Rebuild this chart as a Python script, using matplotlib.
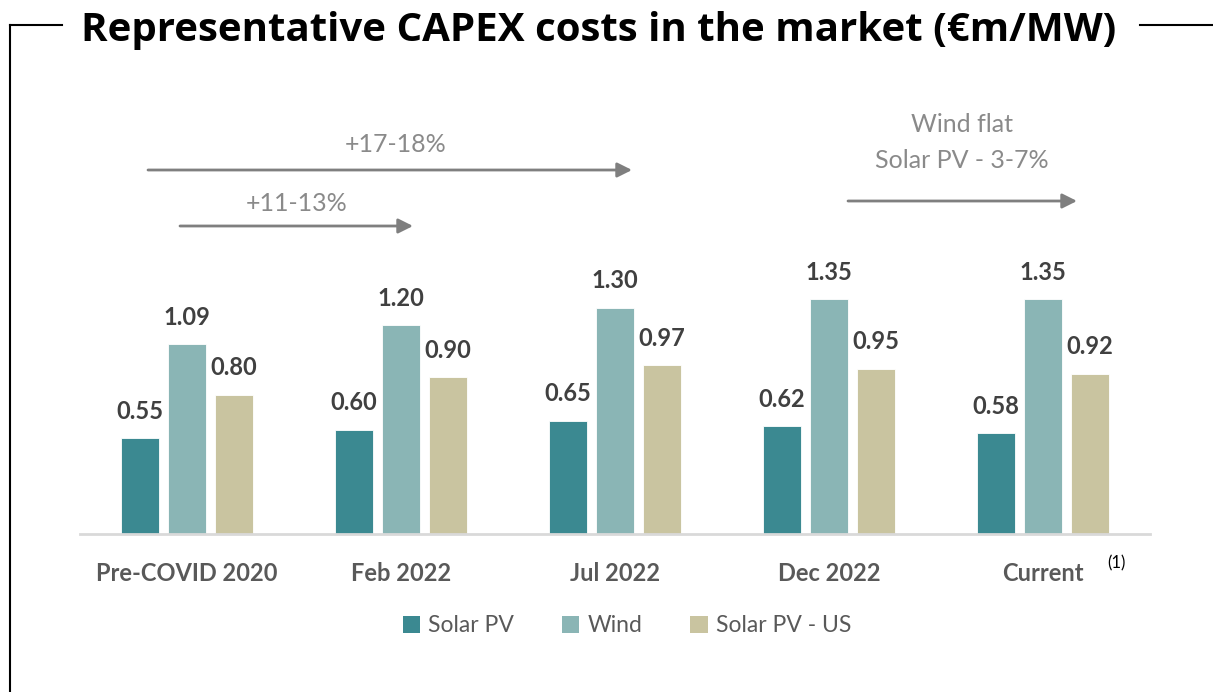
import matplotlib.pyplot as plt
import numpy as np
from matplotlib.patches import Patch
from matplotlib.lines import Line2D

# CAPEX per technology, EUR m per MW
periods = ["Pre-COVID 2020", "Feb 2022", "Jul 2022", "Dec 2022", "Current"]
solar_pv = [0.55, 0.60, 0.65, 0.62, 0.58]
wind = [1.09, 1.20, 1.30, 1.35, 1.35]
solar_pv_us = [0.80, 0.90, 0.97, 0.95, 0.92]
series_names = ["Solar PV", "Wind", "Solar PV - US"]
colors = ["#3b8991", "#8ab5b5", "#c9c4a0"]

W, H = 1213, 692
plt.rcParams['font.family'] = ['Lato', 'DejaVu Sans']
fig = plt.figure(figsize=(W / 100, H / 100), dpi=100)
ax = fig.add_axes([80 / W, (H - 534) / H, 1070 / W, 434 / H])

x = np.arange(len(periods))
step = 0.219
width = 0.177
for i, (vals, col) in enumerate(zip([solar_pv, wind, solar_pv_us], colors)):
    xs = x + (i - 1) * step
    ax.bar(xs, vals, width, color=col, edgecolor='white', linewidth=0.6)
    for xi, v in zip(xs, vals):
        ax.annotate(f"{v:.2f}", (xi, v), xytext=(0, 14), textcoords='offset points',
                    ha='center', va='baseline', fontsize=17, fontweight='bold', color='#404040')

ax.set_xlim(-0.5, 4.5)
ax.set_ylim(0, 434 / 174)
ax.set_xticks(x)
ax.set_xticklabels(periods, fontsize=17, fontweight='bold', color='#595959')
ax.tick_params(axis='x', length=0, pad=20)
ax.set_yticks([])
for s in ['top', 'right', 'left']:
    ax.spines[s].set_visible(False)
ax.spines['bottom'].set_color('#d9d9d9')
ax.spines['bottom'].set_linewidth(2)

fig.text(1107 / W, 1 - 563 / H, "(1)", fontsize=12, ha='left', va='center', color='black')

# growth arrows
arrow_col = '#7f7f7f'
def arrow(x0, x1, y):
    ax.annotate("", xy=(x1, H - y), xytext=(x0, H - y), xycoords='figure pixels',
                textcoords='figure pixels',
                arrowprops=dict(arrowstyle='-|>', color=arrow_col, lw=2, mutation_scale=22,
                                shrinkA=0, shrinkB=0))

arrow(148, 632, 170)
arrow(180, 413, 226)
arrow(848, 1077, 201)
note = dict(fontsize=18, color='#8a8a8a', ha='center', va='center')
fig.text(396 / W, 1 - 145 / H, "+17-18%", **note)
fig.text(297 / W, 1 - 203 / H, "+11-13%", **note)
fig.text(962 / W, 1 - 125 / H, "Wind flat", **note)
fig.text(962 / W, 1 - 160 / H, "Solar PV - 3-7%", **note)

# legend
handles = [Patch(facecolor=c, edgecolor='none') for c in colors]
fig.legend(handles, series_names, loc='center', bbox_to_anchor=(627 / W, 1 - 626 / H),
           ncol=3, frameon=False, fontsize=16.5, labelcolor='#595959',
           handlelength=0.75, handleheight=0.75, handletextpad=0.35, columnspacing=2.1)

# title and frame
fig.text(599 / W, 1 - 30 / H, "Representative CAPEX costs in the market (€m/MW)",
         fontsize=29, fontweight='bold', color='black', ha='center', va='center',
         family=['Open Sans', 'DejaVu Sans'])
frame = dict(color='black', lw=1.5, transform=None)
fig.add_artist(Line2D([10, 10], [0, H - 25], **frame))
fig.add_artist(Line2D([10, 62], [H - 25, H - 25], **frame))
fig.add_artist(Line2D([1140, W], [H - 25, H - 25], **frame))

fig.savefig("out.png", dpi=100)
